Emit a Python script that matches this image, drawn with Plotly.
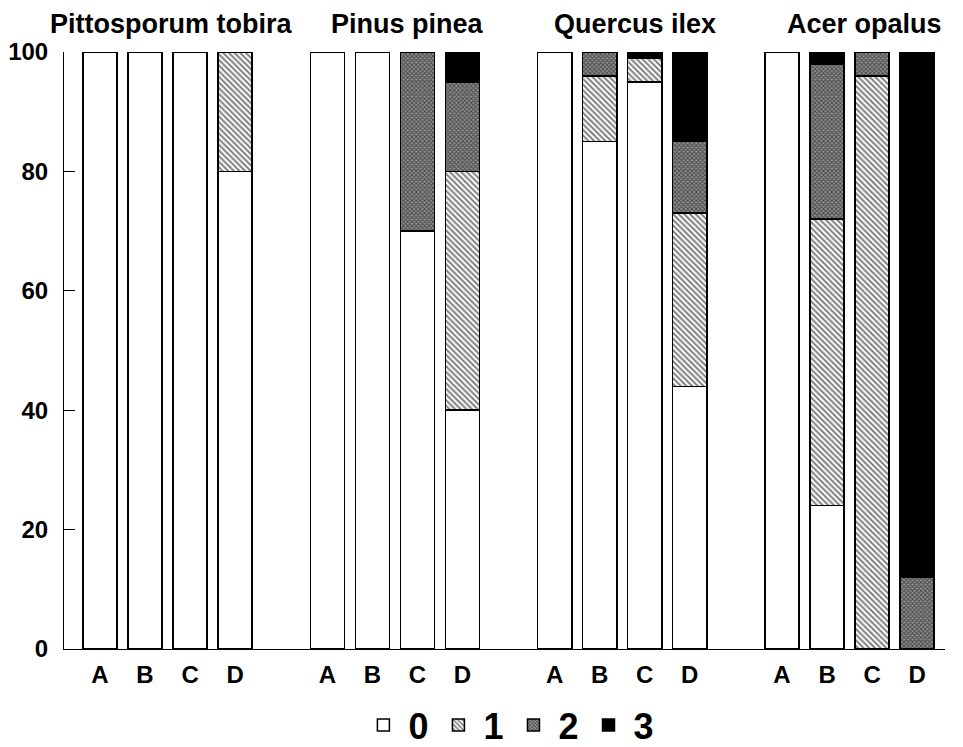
import plotly.graph_objects as go

species = ["Pittosporum tobira", "Pinus pinea", "Quercus ilex", "Acer opalus"]
sites = ["A", "B", "C", "D"]
classes = ["0", "1", "2", "3"]

# percentage per class, per species (rows) and site (columns)
class0 = [[100, 100, 100, 80], [100, 100, 70, 40], [100, 85, 95, 44], [100, 24, 0, 0]]
class1 = [[0, 0, 0, 20], [0, 0, 0, 40], [0, 11, 4, 29], [0, 48, 96, 0]]
class2 = [[0, 0, 0, 0], [0, 0, 30, 15], [0, 4, 0, 12], [0, 26, 4, 12]]
class3 = [[0, 0, 0, 0], [0, 0, 0, 5], [0, 0, 1, 15], [0, 2, 0, 88]]

GROUP_STEP = 5.05
xpos = [g * GROUP_STEP + i for g in range(len(species)) for i in range(len(sites))]
xlabels = [s for _ in species for s in sites]

def flat(m):
    return [v for row in m for v in row]

styles = {
    "0": dict(color="white", pattern=None),
    "1": dict(color="white", pattern=dict(shape="\\", fgcolor="black", bgcolor="white", size=4, solidity=0.5)),
    "2": dict(color="white", pattern=dict(shape="x", fgcolor="black", bgcolor="#8f8f8f", size=3, solidity=0.5)),
    "3": dict(color="black", pattern=None),
}

fig = go.Figure()
for name, data in zip(classes, [class0, class1, class2, class3]):
    st = styles[name]
    marker = dict(color=st["color"], line=dict(color="black", width=1.5))
    if st["pattern"]:
        marker["pattern"] = st["pattern"]
    fig.add_trace(go.Bar(x=xpos, y=flat(data), name=name, width=0.76, marker=marker))

font_main = dict(family="Liberation Sans, Arial, sans-serif", color="black", weight="bold")

title_x = [1.58, 6.84, 11.89, 16.98]
for sp, tx in zip(species, title_x):
    fig.add_annotation(x=tx, y=1, xref="x", yref="paper", yanchor="bottom", yshift=12,
                       borderpad=0, text=sp, showarrow=False, font=dict(font_main, size=27))

fig.update_layout(
    barmode="stack",
    width=963, height=747,
    margin=dict(l=56, r=26, t=44, b=106),
    plot_bgcolor="white", paper_bgcolor="white",
    showlegend=True,
    legend=dict(orientation="h", x=0.505, xanchor="center", xref="paper",
                y=0.04, yanchor="middle", yref="container",
                font=dict(font_main, size=36), traceorder="normal", itemwidth=40),
    xaxis=dict(range=[-0.8, 18.77], tickvals=xpos, ticktext=xlabels, showgrid=False,
               showline=True, linecolor="black", linewidth=1, ticks="", zeroline=False,
               tickfont=dict(font_main, size=24), automargin=False, ticklabelstandoff=4),
    yaxis=dict(range=[0, 100], tickvals=[0, 20, 40, 60, 80, 100], showgrid=False,
               showline=True, linecolor="black", linewidth=1, ticks="inside", ticklen=11,
               tickcolor="black", tickwidth=1, zeroline=False, automargin=False,
               tickfont=dict(font_main, size=24), ticklabelstandoff=10),
)

fig.write_html("out.html")
